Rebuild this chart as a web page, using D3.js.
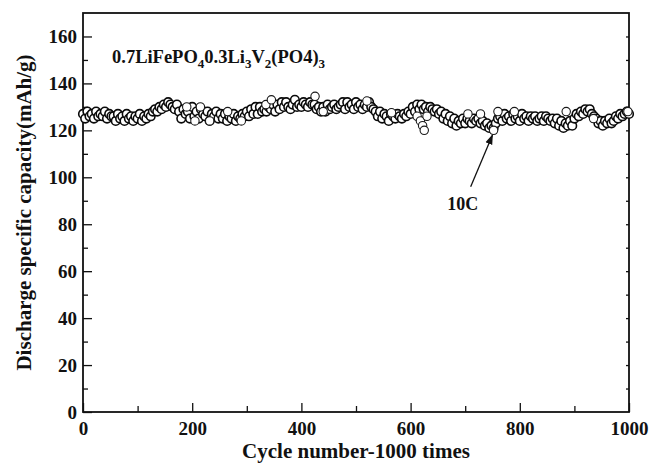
<!DOCTYPE html>
<html>
<head>
<meta charset="utf-8">
<script src="https://cdn.jsdelivr.net/npm/d3@7/dist/d3.min.js"></script>
<style>
  body { margin: 0; background: #fff; }
  text { font-family: "Liberation Serif", "Times New Roman", serif; font-weight: bold; fill: #111; }
  .tick text { font-size: 19px; }
  .domain { display: none; }
  .tick line { stroke: #111; stroke-width: 1.3; }
</style>
</head>
<body>
<div id="chart"></div>
<script>
// discharge capacity at 10C over 1000 cycles, one value every 4 cycles
var cycleStep = 4;
var capacity = [
  127,125,128,126,127,125,128,126,127,126,128,125,127,126,126,124,127,125,126,124,127,125,126,124,126,125,127,124,126,125,127,
  126,128,129,128,130,129,131,130,132,131,130,129,131,
  128,125,129,127,128,125,130,126,128,125,129,127,126,128,124,127,126,128,125,127,
  125,127,124,126,125,127,124,126,125,127,126,
  128,126,129,127,130,127,130,128,129,128,130,
  129,131,128,131,129,132,130,132,130,129,131,133,130,131,130,132,131,130,132,131,
  131,129,130,128,130,128,131,129,130,131,129,130,131,
  132,129,132,130,131,129,132,130,131,129,131,130,132,130,129,
  128,126,128,125,127,126,124,127,126,125,127,126,125,127,126,128,127,
  130,128,131,129,131,129,130,128,130,129,128,129,127,
  128,125,127,124,126,123,125,122,124,123,125,123,125,124,123,125,124,
  125,123,124,122,123,121,122,121,123,125,
  126,124,127,125,126,124,127,125,126,124,127,125,126,124,126,125,126,124,125,126,124,126,125,124,
  125,123,125,122,124,121,123,122,124,122,
  125,127,126,128,127,129,128,129,127,126,
  125,123,124,122,124,123,125,123,
  124,126,125,127,126,127,128,127
];
// points that stand apart from the band
var strayCycles = [190, 205, 215, 232, 265, 290, 335, 345, 425, 440, 520, 565, 612, 618, 622, 625, 630, 705, 728, 752, 760, 790, 885, 935, 998];
var strayValues = [130, 124, 130, 124, 128, 124, 131, 133, 134.5, 128, 132.5, 127.5, 126, 124, 122, 120, 126, 127, 127, 120, 128, 128, 128, 125, 128];

var yTicks = [0, 20, 40, 60, 80, 100, 120, 140, 160];
var xTicks = [0, 200, 400, 600, 800, 1000];

var svgWidth = 660;
var svgHeight = 463;
var margin = { top: 13, right: 31, bottom: 51, left: 83 };
var width = svgWidth - margin.left - margin.right;
var height = svgHeight - margin.top - margin.bottom;

var svg = d3.select("#chart")
  .append("svg")
  .attr("width", svgWidth)
  .attr("height", svgHeight);

var chartGroup = svg.append("g")
  .attr("transform", `translate(${margin.left}, ${margin.top})`);

var xScale = d3.scaleLinear().domain([0, 1000]).range([0, width]);
var yScale = d3.scaleLinear().domain([0, 170]).range([height, 0]);

// minor ticks first, then major ticks with labels
chartGroup.append("g")
  .attr("transform", `translate(0, ${height})`)
  .call(d3.axisBottom(xScale).tickValues([100, 300, 500, 700, 900]).tickSizeInner(-6).tickSizeOuter(0).tickFormat(""));
chartGroup.append("g")
  .attr("transform", `translate(0, ${height})`)
  .call(d3.axisBottom(xScale).tickValues(xTicks).tickSizeInner(-9).tickSizeOuter(0).tickPadding(10).tickFormat(d3.format("d")))
  .selectAll("text").attr("dy", "0.71em");

chartGroup.append("g")
  .call(d3.axisLeft(yScale).tickValues(d3.range(10, 170, 20)).tickSizeInner(-5).tickSizeOuter(0).tickFormat(""));
chartGroup.append("g")
  .call(d3.axisLeft(yScale).tickValues(yTicks).tickSizeInner(-9).tickSizeOuter(0).tickPadding(6));

// small inward ticks on the right edge
chartGroup.append("g")
  .attr("transform", `translate(${width}, 0)`)
  .call(d3.axisRight(yScale).tickValues(d3.range(10, 170, 10)).tickSizeInner(-3).tickSizeOuter(0).tickFormat(""));

// frame
chartGroup.append("rect")
  .attr("width", width)
  .attr("height", height)
  .attr("fill", "none")
  .attr("stroke", "#111")
  .attr("stroke-width", 1.8);

// data circles
chartGroup.selectAll("circle.band")
  .data(capacity)
  .enter()
  .append("circle")
  .attr("class", "band")
  .attr("cx", (d, i) => xScale(i * cycleStep))
  .attr("cy", d => yScale(d))
  .attr("r", 4.3)
  .attr("fill", "#fff")
  .attr("stroke", "#0a0a0a")
  .attr("stroke-width", 1.6);

chartGroup.selectAll("circle.stray")
  .data(strayCycles)
  .enter()
  .append("circle")
  .attr("class", "stray")
  .attr("cx", d => xScale(d))
  .attr("cy", (d, i) => yScale(strayValues[i]))
  .attr("r", 4.2)
  .attr("fill", "#fff")
  .attr("stroke", "#1a1a1a")
  .attr("stroke-width", 1.1);

// compound label
var label = chartGroup.append("text")
  .attr("x", 29)
  .attr("y", 50)
  .style("font-size", "18.5px");
label.append("tspan").text("0.7LiFePO");
label.append("tspan").text("4").attr("dy", 5).style("font-size", "13px");
label.append("tspan").text("0.3Li").attr("dy", -5);
label.append("tspan").text("3").attr("dy", 5).style("font-size", "13px");
label.append("tspan").text("V").attr("dy", -5);
label.append("tspan").text("2").attr("dy", 5).style("font-size", "13px");
label.append("tspan").text("(PO4)").attr("dy", -5);
label.append("tspan").text("3").attr("dy", 5).style("font-size", "13px");

// arrow to the 10C dip
svg.append("defs").append("marker")
  .attr("id", "head")
  .attr("viewBox", "0 0 10 10")
  .attr("refX", 9).attr("refY", 5)
  .attr("markerWidth", 8).attr("markerHeight", 8)
  .attr("orient", "auto")
  .append("path")
  .attr("d", "M0,1.5 L10,5 L0,8.5 z")
  .attr("fill", "#111");

chartGroup.append("line")
  .attr("x1", xScale(710)).attr("y1", yScale(96))
  .attr("x2", xScale(750)).attr("y2", yScale(118))
  .attr("stroke", "#111")
  .attr("stroke-width", 1.3)
  .attr("marker-end", "url(#head)");

chartGroup.append("text")
  .attr("x", xScale(667))
  .attr("y", yScale(86))
  .style("font-size", "18px")
  .text("10C");

// axis titles
svg.append("text")
  .attr("x", margin.left + width / 2)
  .attr("y", 458)
  .attr("text-anchor", "middle")
  .style("font-size", "21px")
  .text("Cycle number-1000 times");

svg.append("text")
  .attr("transform", `translate(31, ${margin.top + height / 2}) rotate(-90)`)
  .attr("text-anchor", "middle")
  .style("font-size", "21px")
  .text("Discharge specific capacity(mAh/g)");
</script>
</body>
</html>
